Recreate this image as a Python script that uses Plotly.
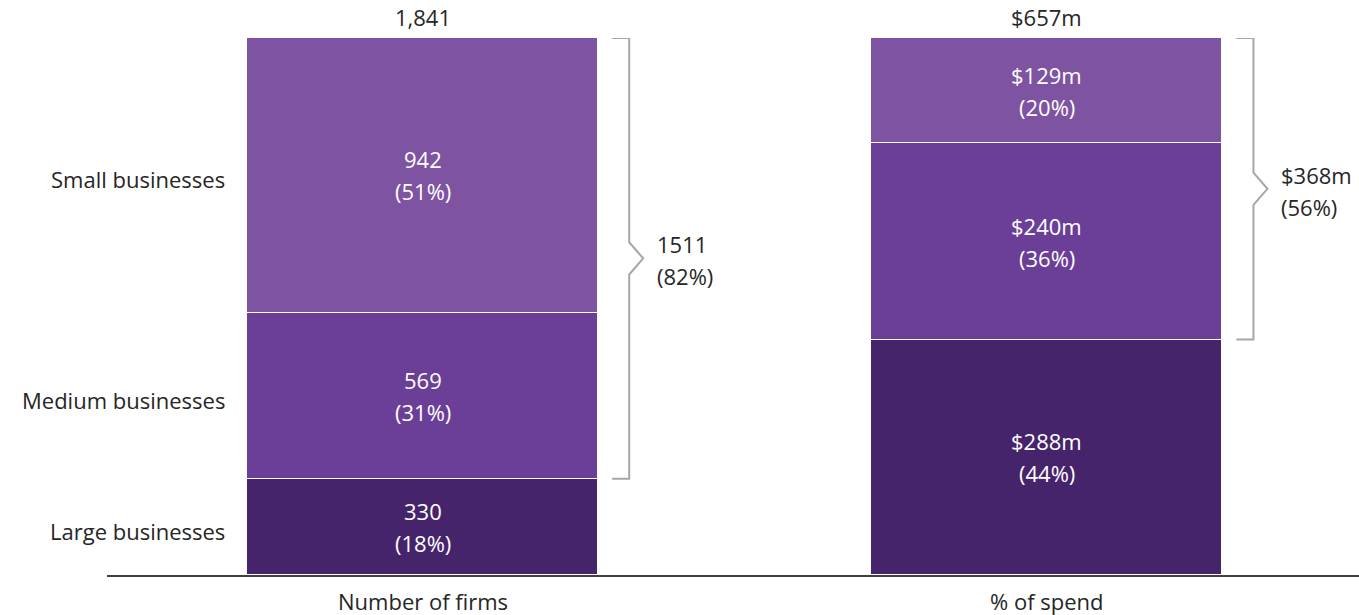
import plotly.graph_objects as go

measures = ["Number of firms", "% of spend"]
segments = ["Large businesses", "Medium businesses", "Small businesses"]
firm_values = [330, 569, 942]
firm_pct = [18, 31, 51]
spend_values = [288, 240, 129]
spend_pct = [44, 36, 20]
totals_text = ["1,841", "$657m"]
seg_colors = ["#46246c", "#6b3e97", "#7e53a1"]
bracket_text = [["1511", "(82%)"], ["$368m", "(56%)"]]

FONT = "Open Sans"
FS = 22
TXT = "#262626"
BAR_W = 0.5625

series = [firm_values, spend_values]
pcts = [firm_pct, spend_pct]
labels_fmt = [lambda v: f"{v}", lambda v: f"${v}m"]

shares = []
for vals in series:
    tot = sum(vals)
    shares.append([v / tot * 100 for v in vals])

fig = go.Figure()
for i, seg in enumerate(segments):
    fig.add_trace(go.Bar(
        x=[0, 1], y=[shares[0][i], shares[1][i]], name=seg, width=BAR_W,
        marker=dict(color=seg_colors[i], line=dict(color="white", width=1)),
        hoverinfo="skip", showlegend=False,
    ))

annotations = []
for b, vals in enumerate(series):
    base = 0
    for i, v in enumerate(vals):
        mid = base + shares[b][i] / 2
        annotations.append(dict(x=b, y=mid, xref="x", yref="y", text=labels_fmt[b](v),
                                showarrow=False, yshift=16, font=dict(color="white", size=FS, family=FONT)))
        annotations.append(dict(x=b, y=mid, xref="x", yref="y", text=f"({pcts[b][i]}%)",
                                showarrow=False, yshift=-16, font=dict(color="white", size=FS, family=FONT)))
        if b == 0:
            annotations.append(dict(x=-BAR_W / 2, y=mid, xref="x", yref="y", text=segments[i],
                                    showarrow=False, xanchor="right", xshift=-20, yshift=-4,
                                    font=dict(color=TXT, size=FS, family=FONT)))
        base += shares[b][i]
    annotations.append(dict(x=b, y=100, xref="x", yref="y", text=totals_text[b], showarrow=False,
                            yanchor="bottom", yshift=4, font=dict(color=TXT, size=FS, family=FONT)))
    annotations.append(dict(x=b, y=0, xref="paper" if False else "x", yref="paper", text=measures[b],
                            showarrow=False, yanchor="top", yshift=-9,
                            font=dict(color=TXT, size=FS, family=FONT)))

# brackets spanning the medium + small segments
shapes = []
px_per_unit = 624.0
for b in range(2):
    lo = shares[b][0]
    hi = 100
    xl = b + BAR_W / 2 + 14 / px_per_unit
    xv = b + BAR_W / 2 + 31 / px_per_unit
    xt = b + BAR_W / 2 + 45 / px_per_unit
    ymid = (lo + hi) / 2
    dy = 3.0
    path = (f"M {xl},{hi} L {xv},{hi} L {xv},{ymid + dy} L {xt},{ymid} "
            f"L {xv},{ymid - dy} L {xv},{lo} L {xl},{lo}")
    shapes.append(dict(type="path", path=path, xref="x", yref="y",
                       line=dict(color="#a6a6a6", width=2)))
    for k, sh in enumerate([14, -18]):
        annotations.append(dict(x=xt, y=ymid, xref="x", yref="y",
                                text=bracket_text[b][k],
                                showarrow=False, xanchor="left", xshift=12, yshift=sh, align="left",
                                font=dict(color=TXT, size=FS, family=FONT)))

fig.update_layout(
    width=1359, height=615,
    margin=dict(l=107, r=0, t=38, b=40),
    barmode="stack", bargap=0,
    plot_bgcolor="white", paper_bgcolor="white",
    xaxis=dict(range=[-0.5056, 1.5], showticklabels=False, showgrid=False, zeroline=False,
               showline=True, linecolor="#404040", linewidth=2, fixedrange=True),
    yaxis=dict(range=[0, 100], visible=False, fixedrange=True),
    annotations=annotations, shapes=shapes,
)
fig.write_html("out.html", config={"displayModeBar": False},
               post_script="document.body.style.margin='0';")
